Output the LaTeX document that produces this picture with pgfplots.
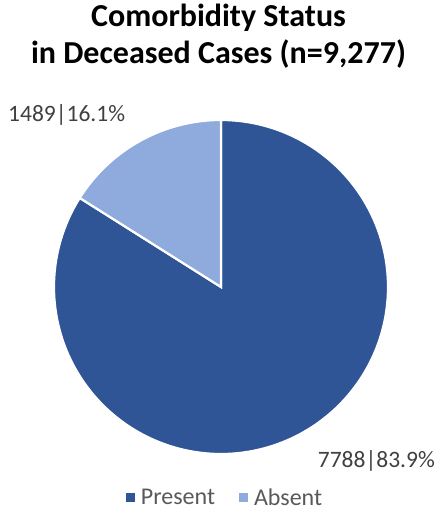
\documentclass[border=0pt]{standalone}
\usepackage{pgfplots}
\pgfplotsset{compat=1.18}
\usepackage{fontspec}
\setmainfont{Carlito}
\definecolor{present}{HTML}{2F5597}
\definecolor{absent}{HTML}{8FAADC}
\definecolor{lbl}{HTML}{404040}
\definecolor{leg}{HTML}{595959}
\pgfmathsetmacro{\nPresent}{7788}
\pgfmathsetmacro{\nAbsent}{1489}
\pgfmathsetmacro{\aEnd}{90+360*(\nAbsent/(\nPresent+\nAbsent))}
\begin{document}
\begin{tikzpicture}
\begin{axis}[
  width=437pt, height=512pt, scale only axis,
  xmin=0, xmax=437, ymin=0, ymax=512,
  axis lines=none, clip=false,
  legend style={at={(axis cs:225,14)}, anchor=center, draw=none, fill=none,
    legend columns=2, font=\fontsize{24}{26}\selectfont\color{leg},
    /tikz/every odd column/.append style={column sep=4pt},
    /tikz/every even column/.append style={column sep=22pt}},
  legend cell align=left,
  legend image code/.code={\fill[#1, draw=none] (0pt,-4.5pt) rectangle (9pt,4.5pt);},
]
\path (axis cs:0,0) rectangle (axis cs:437,512);
\addplot[fill=present, draw=white, line width=2.2pt, domain=\aEnd:450, samples=200]
  ({221+167*cos(x)},{225+167*sin(x)}) -- (axis cs:221,225) -- cycle;
\addlegendentry{Present}
\addplot[fill=absent, draw=white, line width=2.2pt, domain=90:\aEnd, samples=60]
  ({221+167*cos(x)},{225+167*sin(x)}) -- (axis cs:221,225) -- cycle;
\addlegendentry{Absent}
\node[font=\fontsize{32}{37}\selectfont\bfseries, align=center, anchor=center]
  at (axis cs:218.5,476) {Comorbidity Status\\in Deceased Cases (n=9,277)};
\node[font=\fontsize{23.5}{26}\selectfont, text=lbl, anchor=west, inner sep=0pt]
  at (axis cs:8,397) {1489|16.1\%};
\node[font=\fontsize{23.5}{26}\selectfont, text=lbl, anchor=east, inner sep=0pt]
  at (axis cs:435,51) {7788|83.9\%};
\end{axis}
\end{tikzpicture}
\end{document}
